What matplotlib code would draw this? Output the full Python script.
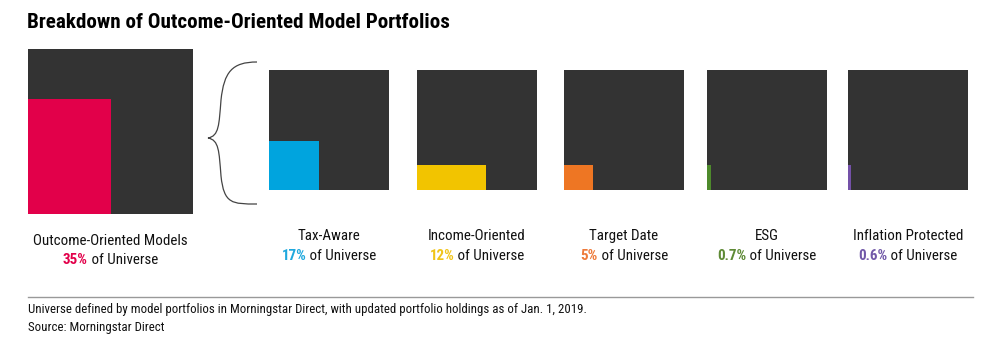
import matplotlib.pyplot as plt
from matplotlib import font_manager as fm
from matplotlib.patches import Rectangle, PathPatch
from matplotlib.path import Path
from matplotlib.offsetbox import TextArea, HPacker, AnnotationBbox

# share of the model portfolio universe, in percent
total_label = 'Outcome-Oriented Models'
total_share = 35
segments = ['Tax-Aware', 'Income-Oriented', 'Target Date', 'ESG', 'Inflation Protected']
shares = [17, 12, 5, 0.7, 0.6]
share_text = ['35%', '17%', '12%', '5%', '0.7%', '0.6%']

colors = ['#E2004A', '#00A4DE', '#F2C400', '#EE7623', '#4E8A2C', '#7451A8']
text_colors = ['#E2004A', '#1FA8DD', '#F0C419', '#EE7A3A', '#5E8A35', '#7158A8']
box_color = '#333333'

# narrow sans for all text
available = {f.name for f in fm.fontManager.ttflist}
FONT = [f for f in ['Roboto Condensed', 'Archivo Narrow', 'DejaVu Sans']
        if f in available][0]
LABEL_SIZE = 10.8

fig = plt.figure(figsize=(9.91, 3.48), dpi=100)
ax = fig.add_axes([0, 0, 1, 1])
ax.set_xlim(0, 991)
ax.set_ylim(348, 0)
ax.axis('off')


def share_box(x0, y0, size, share, color, fill_h):
    # outer square is the whole universe, inner block area = share of it
    ax.add_patch(Rectangle((x0, y0), size, size, color=box_color, lw=0))
    h = size * fill_h
    w = size * size * share / 100 / h
    ax.add_patch(Rectangle((x0, y0 + size - h), w, h, color=color, lw=0))


def caption(cx, y, name, pct, color):
    ax.text(cx, y, name, ha='center', va='center', fontsize=LABEL_SIZE,
            family=FONT, color='#111111')
    parts = HPacker(children=[
        TextArea(pct, textprops=dict(color=color, fontsize=LABEL_SIZE,
                                     family=FONT, weight='bold')),
        TextArea(' of Universe', textprops=dict(color='#111111',
                                                fontsize=LABEL_SIZE,
                                                family=FONT)),
    ], pad=0, sep=0, align='baseline')
    ab = AnnotationBbox(parts, (cx, y + 19.5), frameon=False, pad=0,
                        box_alignment=(0.5, 0.5))
    ax.add_artist(ab)


# big square for the outcome-oriented total
share_box(28, 49, 165, total_share, colors[0], 0.70)
caption(110.5, 241, total_label, share_text[0], text_colors[0])

# curly brace linking the total to its breakdown
verts = [(257, 62), (232, 62), (224, 72), (221, 100),
         (219, 125), (219, 136), (208, 138),
         (219, 140), (219, 151), (221, 176),
         (224, 204), (232, 204), (257, 204)]
codes = [Path.MOVETO] + [Path.CURVE4] * 12
ax.add_patch(PathPatch(Path(verts, codes), fill=False, lw=0.9, color='#444444'))

box_x = [269, 417, 564, 707, 848]
fill_heights = [0.41, 0.21, 0.21, 0.21, 0.21]
for i, name in enumerate(segments):
    share_box(box_x[i], 70, 120, shares[i], colors[i + 1], fill_heights[i])
    caption(box_x[i] + 60, 236, name, share_text[i + 1], text_colors[i + 1])

ax.text(27, 22, 'Breakdown of Outcome-Oriented Model Portfolios', ha='left',
        va='center', fontsize=15.2, weight='bold', family=FONT, color='black')

ax.plot([28, 973], [297, 297], color='#999999', lw=1)
ax.text(28, 310, 'Universe defined by model portfolios in Morningstar Direct, '
        'with updated portfolio holdings as of Jan. 1, 2019.',
        ha='left', va='center', fontsize=9.3, family=FONT, color='#111111')
ax.text(28, 328, 'Source: Morningstar Direct', ha='left', va='center',
        fontsize=9.3, family=FONT, color='#111111')

fig.savefig('out.png', dpi=100)
